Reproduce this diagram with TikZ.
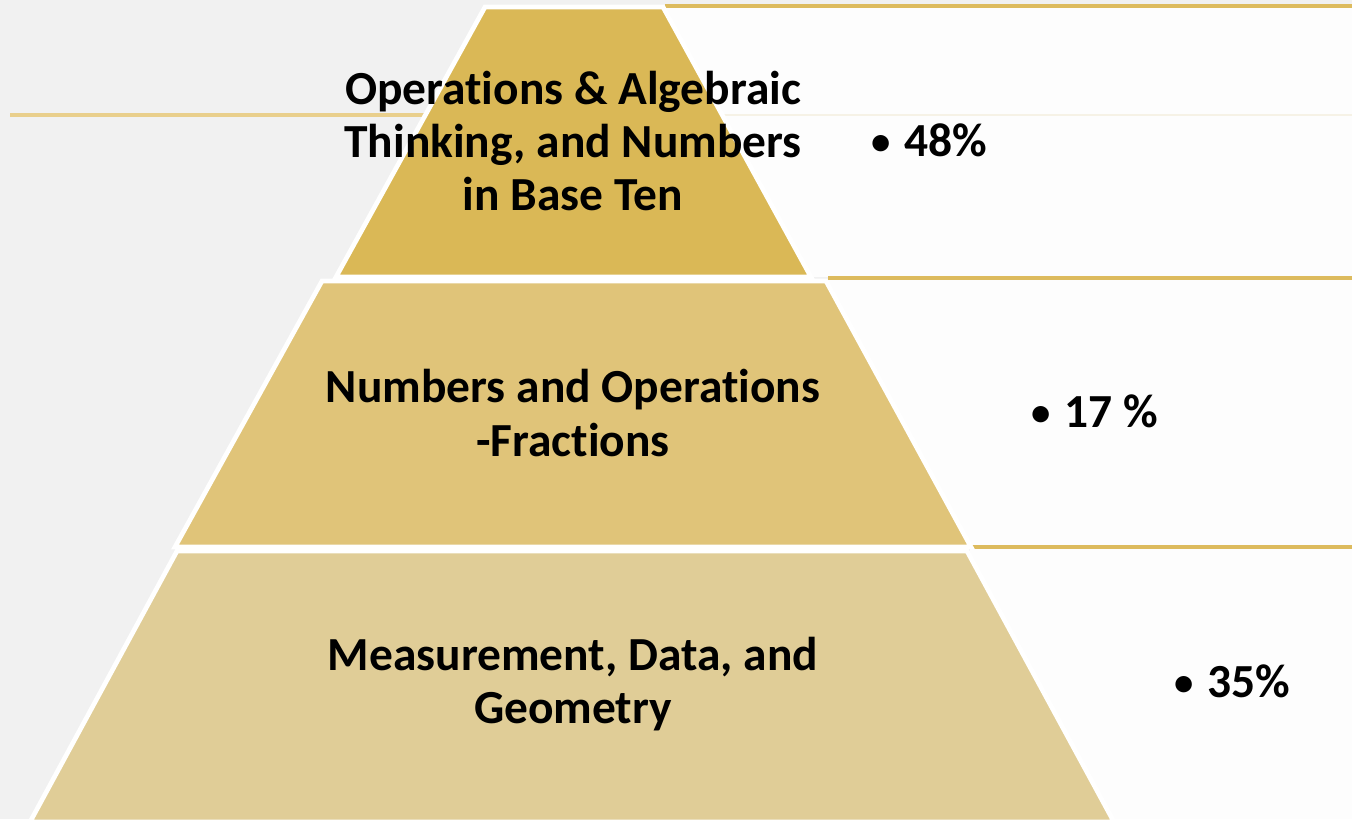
\documentclass[tikz,border=0pt]{standalone}
\usepackage{fontspec}
\setmainfont[Ligatures=NoCommon]{Carlito}
\definecolor{bgc}{HTML}{F1F1F1}
\definecolor{tierA}{HTML}{DAB856}
\definecolor{tierB}{HTML}{E0C479}
\definecolor{tierC}{HTML}{E0CD97}
\definecolor{goldline}{HTML}{DDBB5E}
\definecolor{leftline}{HTML}{E9CF8C}
\definecolor{faintline}{HTML}{F6F2E6}
\definecolor{boxw}{HTML}{FDFDFD}
\newcommand{\pbul}{\raisebox{1.5pt}{\fontsize{29}{30}\selectfont•}\hspace{0.3em}}
\tikzset{
  tier/.style={draw=white, line width=3.5pt, line join=miter},
  topline/.style={draw=goldline, line width=2.3pt},
  tiertext/.style={align=center, font=\fontsize{35.6}{39.8}\selectfont\bfseries, text=black, inner sep=0pt},
  pcttext/.style={anchor=base west, font=\fontsize{35.6}{39.8}\selectfont\bfseries, text=black, inner sep=0pt}
}
\begin{document}
\begin{tikzpicture}[x=0.75pt,y=-0.75pt]
\useasboundingbox (0,0) rectangle (1352,819);
\fill[bgc] (0,0) rectangle (1352,819);
% decorative line on the left
\draw[leftline, line width=2.3pt] (10,115) -- (480,115);
% right boxes
\fill[boxw] (665,7) rectangle (1352,277);
\draw[faintline, line width=1.5pt] (665,115) -- (1352,115);
\draw[topline] (665,6) -- (1352,6);
\fill[boxw] (828,279) rectangle (1352,546);
\draw[topline] (828,278) -- (1352,278);
\fill[boxw] (970,548) rectangle (1352,819);
\draw[topline] (970,547) -- (1352,547);
% pyramid tiers
\path[tier, fill=tierA] (485,7) -- (663,7) -- (811,277) -- (336,277) -- cycle;
\path[tier, fill=tierB] (322,281) -- (826,281) -- (971,547) -- (175,547) -- cycle;
\path[tier, fill=tierC] (177,551) -- (967,551) -- (1114,822) -- (30,822) -- cycle;
% texts
\node[tiertext] (t1) at (573,141) {Operations \& Algebraic\\Thinking, and Numbers\\in Base Ten};
\node[tiertext] (t2) at (573,413) {Numbers and Operations\\-Fractions};
\node[tiertext] (t3) at (573,684) {Measurement, Data, and\\Geometry};
\node[pcttext] (p1) at (871,156) {\pbul 48\%};
\node[pcttext] (p2) at (1031,427) {\pbul 17 \%};
\node[pcttext] (p3) at (1174,697) {\pbul 35\%};
\end{tikzpicture}
\end{document}
